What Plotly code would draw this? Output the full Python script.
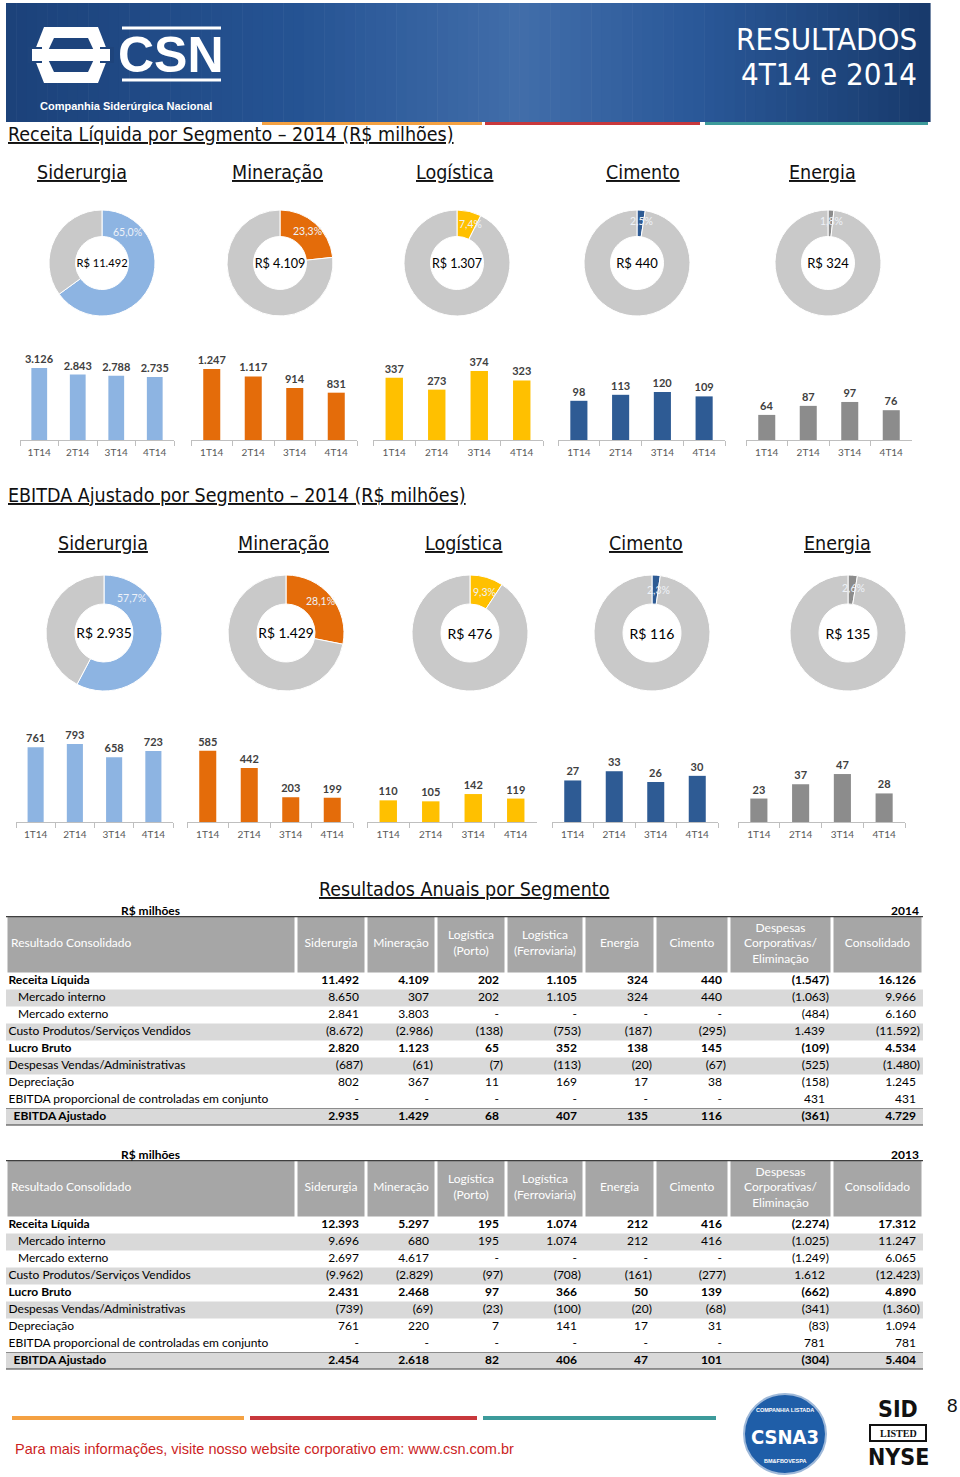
import plotly.graph_objects as go

W, H = 960, 1477
def X(px): return px / W
def Y(py): return 1 - py / H

# ---------------- DATA ----------------
segments = ["Siderurgia", "Mineração", "Logística", "Cimento", "Energia"]
quarters = ["1T14", "2T14", "3T14", "4T14"]

receita_share = [65.0, 23.3, 7.4, 2.5, 1.8]
receita_total = [11492, 4109, 1307, 440, 324]
ebitda_share = [57.7, 28.1, 9.3, 2.3, 2.6]
ebitda_total = [2935, 1429, 476, 116, 135]

receita_sid = [3126, 2843, 2788, 2735]
receita_min = [1247, 1117, 914, 831]
receita_log = [337, 273, 374, 323]
receita_cim = [98, 113, 120, 109]
receita_ene = [64, 87, 97, 76]

ebitda_sid = [761, 793, 658, 723]
ebitda_min = [585, 442, 203, 199]
ebitda_log = [110, 105, 142, 119]
ebitda_cim = [27, 33, 26, 30]
ebitda_ene = [23, 37, 47, 28]

table_headers = ["Resultado Consolidado", "Siderurgia", "Mineração", "Logística<br>(Porto)",
                 "Logística<br>(Ferroviaria)", "Energia", "Cimento",
                 "Despesas<br>Corporativas/<br>Eliminação", "Consolidado"]
table_rows = ["Receita Líquida", "Mercado interno", "Mercado externo",
              "Custo Produtos/Serviços Vendidos", "Lucro Bruto",
              "Despesas Vendas/Administrativas", "Depreciação",
              "EBITDA proporcional de controladas em conjunto", "EBITDA Ajustado"]

# columns: Siderurgia, Mineração, Log Porto, Log Ferro, Energia, Cimento, Despesas, Consolidado
y2014_receita = [11492, 4109, 202, 1105, 324, 440, -1547, 16126]
y2014_merc_int = [8650, 307, 202, 1105, 324, 440, -1063, 9966]
y2014_merc_ext = [2841, 3803, None, None, None, None, -484, 6160]
y2014_custo = [-8672, -2986, -138, -753, -187, -295, 1439, -11592]
y2014_lucro = [2820, 1123, 65, 352, 138, 145, -109, 4534]
y2014_desp = [-687, -61, -7, -113, -20, -67, -525, -1480]
y2014_depr = [802, 367, 11, 169, 17, 38, -158, 1245]
y2014_ebitda_prop = [None, None, None, None, None, None, 431, 431]
y2014_ebitda_aj = [2935, 1429, 68, 407, 135, 116, -361, 4729]

y2013_receita = [12393, 5297, 195, 1074, 212, 416, -2274, 17312]
y2013_merc_int = [9696, 680, 195, 1074, 212, 416, -1025, 11247]
y2013_merc_ext = [2697, 4617, None, None, None, None, -1249, 6065]
y2013_custo = [-9962, -2829, -97, -708, -161, -277, 1612, -12423]
y2013_lucro = [2431, 2468, 97, 366, 50, 139, -662, 4890]
y2013_desp = [-739, -69, -23, -100, -20, -68, -341, -1360]
y2013_depr = [761, 220, 7, 141, 17, 31, -83, 1094]
y2013_ebitda_prop = [None, None, None, None, None, None, 781, 781]
y2013_ebitda_aj = [2454, 2618, 82, 406, 47, 101, -304, 5404]

# ---------------- STYLE ----------------
SEG_COLORS = ["#8db4e2", "#e46c0a", "#ffc000", "#2e5b94", "#8c8c8c"]
REST = "#c9c9c9"
F_HEAD = "Liberation Sans Narrow, DejaVu Sans Condensed, Arial Narrow, sans-serif"
F_BODY = "Lato, Carlito, Calibri, Noto Sans, sans-serif"
F_ARIAL = "Liberation Sans, Arial, sans-serif"

fig = go.Figure()
ann = []
shapes = []
layout_axes = {}

def txt(x, y, text, size, color="#000000", family=F_BODY, xa="center", ya="middle", **kw):
    ann.append(dict(x=X(x), y=Y(y), xref="paper", yref="paper", text=text, showarrow=False,
                    xanchor=xa, yanchor=ya, font=dict(size=size, color=color, family=family), **kw))

def fmt_int(v):
    s = f"{abs(v):,}".replace(",", ".")
    return f"({s})" if v < 0 else s

def fmt_cell(v):
    return "-" if v is None else fmt_int(v)

# ---------------- BANNER ----------------
stops = [(6, (28, 66, 122)), (300, (38, 84, 148)), (520, (66, 110, 170)),
         (700, (42, 88, 152)), (930, (24, 58, 108))]
N = 90
for k in range(N):
    x0 = 6 + (930 - 6) * k / N
    x1 = 6 + (930 - 6) * (k + 1) / N + 0.6
    xm = (x0 + x1) / 2
    for j in range(len(stops) - 1):
        if stops[j][0] <= xm <= stops[j + 1][0]:
            t = (xm - stops[j][0]) / (stops[j + 1][0] - stops[j][0])
            c = [int(stops[j][1][m] + t * (stops[j + 1][1][m] - stops[j][1][m])) for m in range(3)]
            break
    shapes.append(dict(type="rect", xref="paper", yref="paper", x0=X(x0), x1=X(x1), y0=Y(122), y1=Y(3),
                       fillcolor=f"rgb({c[0]},{c[1]},{c[2]})", line=dict(width=0), layer="below"))

for (a, b, col) in [(262, 482, "#f4a142"), (485, 700, "#c8383c"), (705, 928, "#3d9b9b")]:
    shapes.append(dict(type="line", xref="paper", yref="paper", x0=X(a), x1=X(b), y0=Y(123.5), y1=Y(123.5),
                       line=dict(color=col, width=3)))
for (a, b, col) in [(12, 244, "#f4a142"), (250, 477, "#c8383c"), (483, 716, "#3d9b9b")]:
    shapes.append(dict(type="line", xref="paper", yref="paper", x0=X(a), x1=X(b), y0=Y(1418), y1=Y(1418),
                       line=dict(color=col, width=4)))

def path(pts):
    return "M " + " L ".join(f"{X(px)},{Y(py)}" for px, py in pts) + " Z"
BG = "rgb(30,68,124)"
shapes.append(dict(type="path", xref="paper", yref="paper",
                   path=path([(44, 27), (98, 27), (109, 55), (98, 83), (44, 83), (33, 55)]),
                   fillcolor="white", line=dict(width=0)))
shapes.append(dict(type="path", xref="paper", yref="paper",
                   path=path([(54, 38), (88, 38), (96, 55), (88, 72), (54, 72), (46, 55)]),
                   fillcolor=BG, line=dict(width=0)))
shapes.append(dict(type="rect", xref="paper", yref="paper", x0=X(28), x1=X(42), y0=Y(63), y1=Y(47),
                   fillcolor=BG, line=dict(width=0)))
shapes.append(dict(type="rect", xref="paper", yref="paper", x0=X(100), x1=X(114), y0=Y(63), y1=Y(47),
                   fillcolor=BG, line=dict(width=0)))
shapes.append(dict(type="rect", xref="paper", yref="paper", x0=X(32), x1=X(110), y0=Y(61), y1=Y(49),
                   fillcolor="white", line=dict(width=0)))
shapes.append(dict(type="line", xref="paper", yref="paper", x0=X(122), x1=X(221), y0=Y(28), y1=Y(28),
                   line=dict(color="white", width=3)))
shapes.append(dict(type="line", xref="paper", yref="paper", x0=X(122), x1=X(221), y0=Y(80), y1=Y(80),
                   line=dict(color="white", width=3)))
txt(171, 55, "<b>CSN</b>", 50, "white", F_ARIAL)
txt(126, 106, "<b>Companhia Siderúrgica Nacional</b>", 11, "white", F_ARIAL)
txt(919, 39, "RESULTADOS", 31, "white", F_HEAD, xa="right")
txt(919, 74, "4T14 e 2014", 31, "white", F_HEAD, xa="right")

# ---------------- SECTION TITLES ----------------
txt(6, 135, "<u>Receita Líquida por Segmento – 2014 (R$ milhões)</u>", 19.5, "#111111", F_HEAD, xa="left")
txt(6, 495, "<u>EBITDA Ajustado por Segmento – 2014 (R$ milhões)</u>", 19.5, "#111111", F_HEAD, xa="left")
title1_x = [82, 277, 454, 643, 822]
title2_x = [103, 283, 463, 646, 837]
for i, s in enumerate(segments):
    txt(title1_x[i], 172, f"<u>{s}</u>", 19.5, "#111111", F_HEAD)
    txt(title2_x[i], 543, f"<u>{s}</u>", 19.5, "#111111", F_HEAD)

# ---------------- DONUTS ----------------
pie_rows = [
    dict(share=receita_share, total=receita_total, cx=[102, 280, 457, 637, 828], cy=263, r=53, fs=13,
         off=[(25, -31), (27, -32), (13, -39), (4, -42), (3, -42)]),
    dict(share=ebitda_share, total=ebitda_total, cx=[104, 286, 470, 652, 848], cy=633, r=58, fs=14,
         off=[(27, -35), (34, -32), (14, -41), (6, -43), (5, -45)]),
]
for row in pie_rows:
    for i in range(5):
        cx, cy, r = row["cx"][i], row["cy"], row["r"]
        v = row["share"][i]
        fig.add_trace(go.Pie(
            values=[v, 100 - v], sort=False, direction="clockwise", rotation=0, hole=0.5,
            marker=dict(colors=[SEG_COLORS[i], REST], line=dict(color="white", width=1)),
            textinfo="none", hoverinfo="skip", showlegend=False,
            domain=dict(x=[X(cx - r), X(cx + r)], y=[Y(cy + r), Y(cy - r)]),
            title=dict(text=f"R$ {fmt_int(row['total'][i])}", position="middle center",
                       font=dict(size=row["fs"], color="#000000", family=F_BODY)),
        ))
        dx, dy = row["off"][i]
        txt(cx + dx, cy + dy, f"{v:.1f}".replace(".", ",") + "%", 10.5, "#eef2f8", F_BODY)

# ---------------- BAR CHARTS ----------------
bar_rows = [
    dict(series=[receita_sid, receita_min, receita_log, receita_cim, receita_ene],
         xs=[(20, 174), (191, 357), (373, 543), (558, 725), (746, 912)], y=(340, 440),
         ymax=[4342, 1756, 542, 250, 255]),
    dict(series=[ebitda_sid, ebitda_min, ebitda_log, ebitda_cim, ebitda_ene],
         xs=[(16, 173), (187, 353), (367, 537), (552, 718), (738, 905)], y=(722, 822),
         ymax=[1017, 820, 508, 65, 98]),
]
ax = 0
for row in bar_rows:
    for i in range(5):
        ax += 1
        sfx = "" if ax == 1 else str(ax)
        vals = row["series"][i]
        fig.add_trace(go.Bar(
            x=quarters, y=vals, xaxis=f"x{sfx}", yaxis=f"y{sfx}",
            marker=dict(color=SEG_COLORS[i], line=dict(width=0)), width=0.41,
            text=[fmt_int(v) for v in vals], textposition="outside", cliponaxis=False,
            constraintext="none",
            textfont=dict(size=11, color="#404040", family=F_BODY, weight="bold"),
            hoverinfo="skip", showlegend=False))
        x0, x1 = row["xs"][i]
        layout_axes[f"xaxis{sfx}"] = dict(
            domain=[X(x0), X(x1)], anchor=f"y{sfx}", type="category", showgrid=False,
            showline=True, linecolor="#bfbfbf", linewidth=1, ticks="outside", tickson="boundaries",
            ticklen=5, tickcolor="#bfbfbf", ticklabelstandoff=3,
            tickfont=dict(size=10, color="#595959", family=F_BODY),
            fixedrange=True, zeroline=False)
        layout_axes[f"yaxis{sfx}"] = dict(
            domain=[Y(row["y"][1]), Y(row["y"][0])], anchor=f"x{sfx}", range=[0, row["ymax"][i]],
            visible=False, showgrid=False, zeroline=False, fixedrange=True)

# ---------------- TABLES (drawn on their own axes; 1 x-unit = 1 px, 1 row = 1 y-unit) ----------------
COL_W = [290, 70, 70, 70, 78, 71, 74, 103, 91]
TOTAL_W = sum(COL_W)
LEFTS = [sum(COL_W[:k]) for k in range(len(COL_W))]
ROW_PX = 17.0
HDR_U = 56.5 / ROW_PX
ROW_SHADE = [False, True, False, True, False, True, False, False, True]
ROW_BOLD = [True, False, False, False, True, False, False, False, True]
ROW_INDENT = [2.5, 12, 12, 2.5, 2.5, 2.5, 2.5, 2.5, 7.5]
TFONT = dict(size=12, color="#000000", family=F_BODY)

def make_table(rows_data, top, year):
    global ax
    ax += 1
    sfx = str(ax)
    xa, ya = f"x{sfx}", f"y{sfx}"
    hc = -0.5 - HDR_U / 2
    nrows = len(table_rows)
    # header cells
    fig.add_trace(go.Bar(orientation="h", y=[hc] * len(COL_W), x=[w - 3 for w in COL_W],
                         base=[l + 1.5 for l in LEFTS], width=HDR_U, marker=dict(color="#a6a6a6", line=dict(width=0)),
                         xaxis=xa, yaxis=ya, hoverinfo="skip", showlegend=False))
    # shaded body rows
    shaded = [k for k in range(nrows) if ROW_SHADE[k]]
    fig.add_trace(go.Bar(orientation="h", y=shaded, x=[TOTAL_W] * len(shaded), base=0, width=1,
                         marker=dict(color="#d9d9d9", line=dict(width=0)),
                         xaxis=xa, yaxis=ya, hoverinfo="skip", showlegend=False))
    # header texts
    fig.add_trace(go.Scatter(mode="text", x=[LEFTS[0] + 5], y=[hc], text=[table_headers[0]],
                             textposition="middle right", textfont=dict(size=12, color="white", family=F_BODY),
                             xaxis=xa, yaxis=ya, hoverinfo="skip", showlegend=False, cliponaxis=False))
    fig.add_trace(go.Scatter(mode="text", x=[LEFTS[c] + COL_W[c] / 2 for c in range(1, len(COL_W))],
                             y=[hc] * (len(COL_W) - 1), text=table_headers[1:],
                             textposition="middle center", textfont=dict(size=12, color="white", family=F_BODY),
                             xaxis=xa, yaxis=ya, hoverinfo="skip", showlegend=False, cliponaxis=False))
    # row labels
    fig.add_trace(go.Scatter(mode="text", x=ROW_INDENT, y=list(range(nrows)),
                             text=[f"<b>{t}</b>" if ROW_BOLD[k] else t for k, t in enumerate(table_rows)],
                             textposition="middle right", textfont=TFONT,
                             xaxis=xa, yaxis=ya, hoverinfo="skip", showlegend=False, cliponaxis=False))
    # values
    for c in range(8):
        right = LEFTS[c + 1] + COL_W[c + 1]
        xs, ts = [], []
        for k in range(nrows):
            v = rows_data[k][c]
            s = fmt_cell(v)
            pad = 3 if (v is not None and v < 0) else 7
            xs.append(right - pad)
            ts.append(f"<b>{s}</b>" if ROW_BOLD[k] else s)
        fig.add_trace(go.Scatter(mode="text", x=xs, y=list(range(nrows)), text=ts,
                                 textposition="middle left", textfont=TFONT,
                                 xaxis=xa, yaxis=ya, hoverinfo="skip", showlegend=False, cliponaxis=False))
    bottom_px = top + HDR_U * ROW_PX + nrows * ROW_PX
    layout_axes[f"xaxis{sfx}"] = dict(domain=[X(6), X(6 + TOTAL_W)], anchor=ya, range=[0, TOTAL_W],
                                      visible=False, fixedrange=True)
    layout_axes[f"yaxis{sfx}"] = dict(domain=[Y(bottom_px), Y(top)], anchor=xa,
                                      range=[nrows - 0.5, -0.5 - HDR_U], visible=False, fixedrange=True)
    shapes.append(dict(type="line", xref=xa, yref=ya, x0=0, x1=TOTAL_W, y0=-0.5 - HDR_U, y1=-0.5 - HDR_U,
                       line=dict(color="#3f3f3f", width=2.5)))
    shapes.append(dict(type="line", xref=xa, yref=ya, x0=0, x1=TOTAL_W, y0=nrows - 1.5, y1=nrows - 1.5,
                       line=dict(color="#8c8c8c", width=1)))
    shapes.append(dict(type="line", xref=xa, yref=ya, x0=0, x1=TOTAL_W, y0=nrows - 0.5, y1=nrows - 0.5,
                       line=dict(color="#3f3f3f", width=2)))
    txt(150, top - 6, "<b>R$ milhões</b>", 12, "#000000", F_BODY)
    txt(921, top - 6, f"<b>{year}</b>", 12, "#000000", F_BODY, xa="right")

txt(464, 889, "<u>Resultados Anuais por Segmento</u>", 19.5, "#111111", F_HEAD)
make_table([y2014_receita, y2014_merc_int, y2014_merc_ext, y2014_custo, y2014_lucro,
            y2014_desp, y2014_depr, y2014_ebitda_prop, y2014_ebitda_aj], 916, "2014")
make_table([y2013_receita, y2013_merc_int, y2013_merc_ext, y2013_custo, y2013_lucro,
            y2013_desp, y2013_depr, y2013_ebitda_prop, y2013_ebitda_aj], 1160, "2013")

# ---------------- FOOTER ----------------
txt(13, 1449, "Para mais informações, visite nosso website corporativo em: www.csn.com.br", 14.5,
    "#cc1f1f", F_ARIAL, xa="left")
shapes.append(dict(type="circle", xref="paper", yref="paper", x0=X(744), x1=X(826), y0=Y(1474), y1=Y(1394),
                   fillcolor="#1f5ea8", line=dict(color="#9fb9d9", width=2)))
txt(785, 1437, "<b>CSNA3</b>", 20, "white", F_HEAD)
txt(785, 1410, "<b>COMPANHIA LISTADA</b>", 5.5, "white", F_ARIAL)
txt(785, 1461, "<b>BM&FBOVESPA</b>", 5.5, "white", F_ARIAL)
txt(898, 1409, "<b>SID</b>", 23, "#111111", F_HEAD)
shapes.append(dict(type="rect", xref="paper", yref="paper", x0=X(870), x1=X(926), y0=Y(1441), y1=Y(1425),
                   fillcolor="white", line=dict(color="#111111", width=2)))
txt(898, 1433, "<b>LISTED</b>", 10, "#111111", "Liberation Serif, DejaVu Serif, serif")
txt(898, 1457, "<b>NYSE</b>", 23, "#111111", F_HEAD)
txt(952, 1405, "8", 19, "#111111", F_ARIAL)

fig.update_layout(
    width=W, height=H, margin=dict(l=0, r=0, t=0, b=0),
    paper_bgcolor="white", plot_bgcolor="rgba(0,0,0,0)", separators=",.", barmode="overlay",
    showlegend=False, annotations=ann, shapes=shapes, **layout_axes)

fig.write_html("out.html", config={"displayModeBar": False},
               post_script="document.body.style.margin='0px';document.body.style.overflow='hidden';")
